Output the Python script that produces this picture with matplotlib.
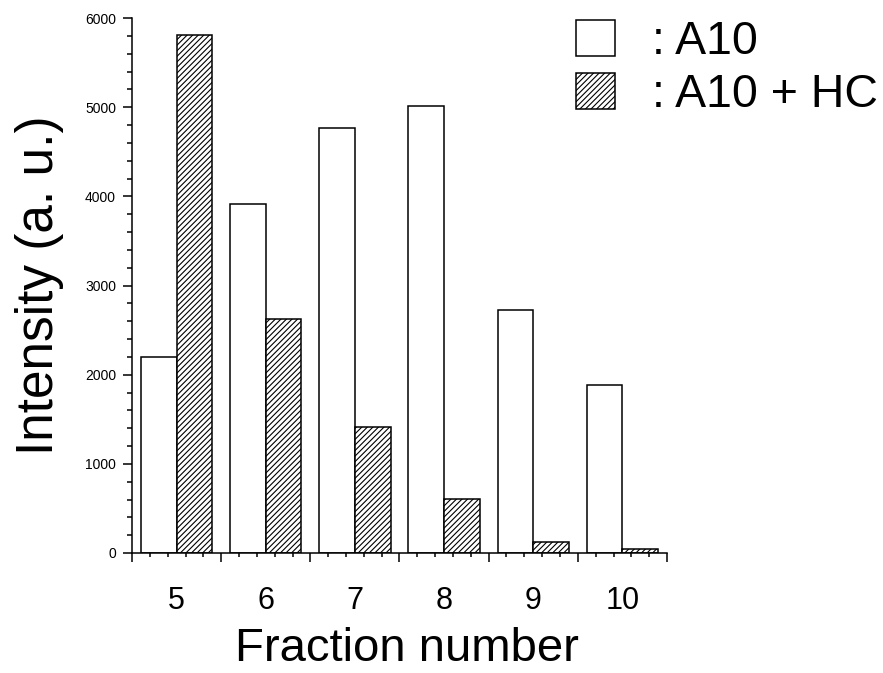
import numpy as np
import matplotlib
matplotlib.use('Agg')
import matplotlib.pyplot as plt
from matplotlib.patches import Patch
from matplotlib.ticker import MultipleLocator

plt.rcParams['font.family'] = ['Liberation Sans', 'DejaVu Sans']
plt.rcParams['hatch.linewidth'] = 0.8

fractions = [5, 6, 7, 8, 9, 10]
a10 = [2200, 3910, 4770, 5010, 2730, 1880]
a10_hc = [5810, 2620, 1410, 610, 120, 50]
labels = [': A10', ': A10 + HC']

fig = plt.figure(figsize=(8.83, 6.73), dpi=100)
ax = fig.add_axes([132 / 883, 1 - 553 / 673, 535 / 883, 535 / 673])

x = np.array(fractions)
w = 0.4
ax.bar(x - w / 2, a10, width=w, color='white', edgecolor='black', linewidth=1.1)
ax.bar(x + w / 2, a10_hc, width=w, color='white', edgecolor='black', linewidth=1.1,
       hatch='//////')

ax.set_xlim(4.5, 10.5)
ax.set_ylim(0, 6000)
for s in ['top', 'right']:
    ax.spines[s].set_visible(False)
for s in ['left', 'bottom']:
    ax.spines[s].set_linewidth(1.1)

# y ticks
ax.yaxis.set_major_locator(MultipleLocator(1000))
ax.yaxis.set_minor_locator(MultipleLocator(200))
ax.tick_params(axis='y', which='major', length=6.5, width=1.1, labelsize=10, pad=5)
ax.tick_params(axis='y', which='minor', length=3.5, width=1.1)

# x ticks: long ticks between groups, short ones every 0.2
ax.set_xticks(np.arange(4.5, 10.6, 1.0))
ax.set_xticklabels([])
ax.set_xticks(np.arange(4.5, 10.55, 0.2), minor=True)
ax.tick_params(axis='x', which='major', length=6.5, width=1.1)
ax.tick_params(axis='x', which='minor', length=3.0, width=1.1)

# labels centred on the groups, no tick marks
sec = ax.secondary_xaxis('bottom')
sec.spines['bottom'].set_visible(False)
sec.set_xticks(fractions)
sec.set_xticklabels([str(f) for f in fractions])
sec.tick_params(length=0, labelsize=22, pad=24)
sec.set_xlabel('Fraction number', fontsize=34, labelpad=8)
sec.xaxis.label.set_x(0.514)

ax.set_ylabel('Intensity (a. u.)', fontsize=37, labelpad=15)

handles = [Patch(facecolor='white', edgecolor='black', linewidth=1.1),
           Patch(facecolor='white', edgecolor='black', linewidth=1.1, hatch='//////')]
fig.legend(handles, labels, loc='upper left', bbox_to_anchor=(576 / 883, 1 - 20 / 673),
           frameon=False, fontsize=33.5, handlelength=0.83, handleheight=0.8,
           handletextpad=0.8, labelspacing=0.2, borderpad=0, borderaxespad=0)

fig.savefig('out.png', dpi=100)
